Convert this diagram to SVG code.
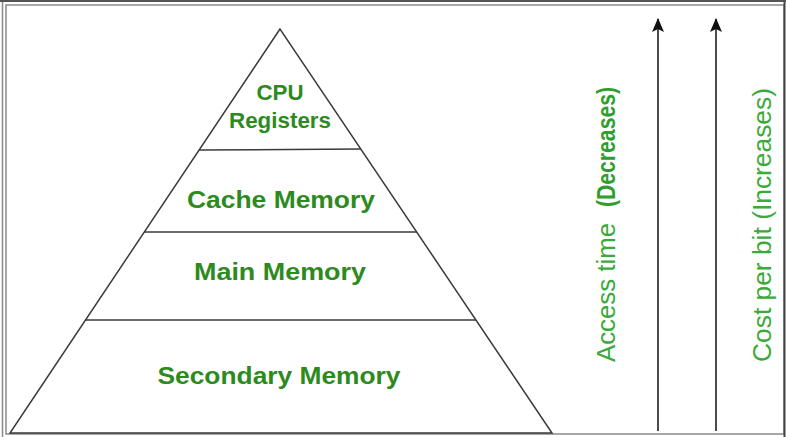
<svg xmlns="http://www.w3.org/2000/svg" width="786" height="437" viewBox="0 0 786 437">
  <style>
    .frame { fill: none; stroke: #8a8a8a; stroke-width: 1.5; }
    .edge { fill: none; stroke: #3a3a3a; stroke-width: 1.5; }
    .lbl { font-family: "Liberation Sans", Arial, sans-serif; font-weight: bold; font-size: 22px; fill: #2d8a1d; text-anchor: middle; }
    .big { font-size: 24px; }
    .side { font-family: "Liberation Sans", Arial, sans-serif; font-size: 25px; fill: #3aaa3a; }
    .sideb { font-weight: bold; fill: #2f9e2f; }
    .arrow { stroke: #111; stroke-width: 1.5; fill: none; }
  </style>
  <defs>
    <marker id="ah" markerWidth="14" markerHeight="12" refX="13" refY="6" orient="auto" markerUnits="userSpaceOnUse" viewBox="0 0 14 12">
      <path d="M0,0 L14,6 L0,12 L3,6 Z" fill="#111"/>
    </marker>
  </defs>
  <rect x="0" y="0" width="786" height="437" fill="#ffffff"/>
  <!-- frame -->
  <rect x="0" y="0" width="786" height="2" fill="#555"/>
  <line x1="2.5" y1="2" x2="2.5" y2="437" class="frame"/>
  <rect x="6" y="5" width="778" height="429" class="frame"/>
  <line x1="784.5" y1="2" x2="784.5" y2="437" stroke="#444" stroke-width="2"/>

  <g id="pyramid">
    <polygon points="280,29 10,433 552,433" class="edge"/>
  </g>
  <g id="cpu-registers">
    <text class="lbl" x="280" y="100" textLength="47" lengthAdjust="spacingAndGlyphs">CPU</text>
    <text class="lbl" x="280" y="128" textLength="102" lengthAdjust="spacingAndGlyphs">Registers</text>
  </g>
  <g id="cache-memory">
    <line x1="199" y1="150" x2="361" y2="149" class="edge"/>
    <text class="lbl big" x="281" y="208" textLength="188" lengthAdjust="spacingAndGlyphs">Cache Memory</text>
  </g>
  <g id="main-memory">
    <line x1="144" y1="232" x2="417" y2="232" class="edge"/>
    <text class="lbl big" x="280" y="280" textLength="172" lengthAdjust="spacingAndGlyphs">Main Memory</text>
  </g>
  <g id="secondary-memory">
    <line x1="85" y1="320" x2="476" y2="320" class="edge"/>
    <text class="lbl big" x="279" y="384" textLength="243" lengthAdjust="spacingAndGlyphs">Secondary Memory</text>
  </g>

  <g id="connectors">
    <line x1="658" y1="431" x2="658" y2="19" class="arrow" marker-end="url(#ah)"/>
    <line x1="716" y1="431" x2="716" y2="19" class="arrow" marker-end="url(#ah)"/>
  </g>

  <g id="access-time">
    <text class="side" transform="translate(615,362) rotate(-90)"><tspan textLength="139" lengthAdjust="spacingAndGlyphs">Access time</tspan><tspan class="sideb" x="155" textLength="120" lengthAdjust="spacingAndGlyphs">(Decreases)</tspan></text>
  </g>
  <g id="cost-per-bit">
    <text class="side" transform="translate(771,362) rotate(-90)" textLength="274" lengthAdjust="spacingAndGlyphs">Cost per bit (Increases)</text>
  </g>
</svg>
